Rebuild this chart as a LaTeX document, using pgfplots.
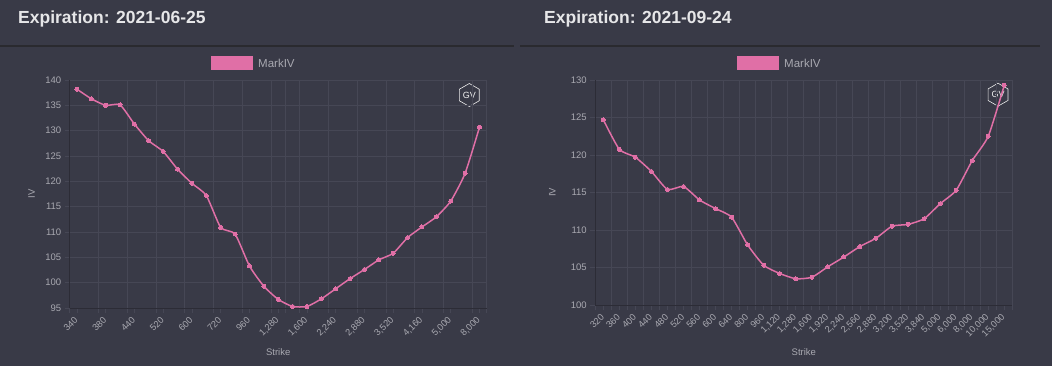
\documentclass[border=0pt]{standalone}
\usepackage{pgfplots}
\pgfplotsset{compat=1.18}
\usepackage{fontspec}
\setmainfont{Liberation Sans}
\usetikzlibrary{shapes.geometric}
\definecolor{bg}{HTML}{393A47}
\definecolor{gridc}{HTML}{464755}
\definecolor{axisc}{HTML}{2C2C36}
\definecolor{tickc}{HTML}{A9A9B1}
\definecolor{pinkc}{HTML}{E06FA6}
\definecolor{titlec}{HTML}{E6E6E8}
\definecolor{divc}{HTML}{2A2A2F}
\pgfplotsset{
  ivstyle/.style={
    scale only axis,
    clip=false,
    axis x line*=bottom, axis y line*=left,
    axis line style={axisc, line width=0.9pt},
    tick align=outside,
    major tick length=5pt, minor tick length=5pt,
    every tick/.style={gridc, line width=0.7pt},
    xmajorgrids=false, xminorgrids=true, ymajorgrids=true,
    grid style={gridc, line width=0.7pt},
    minor grid style={gridc, line width=0.7pt},
    /pgf/number format/assume math mode=true,
    yticklabel style={font=\fontsize{9.5}{10}\selectfont, text=tickc},
    xticklabel style={rotate=45, anchor=east, font=\fontsize{9.2}{10}\selectfont, text=tickc, inner sep=1pt, xshift=-3.5pt, yshift=-3.5pt},
    ylabel={IV}, xlabel={Strike},
    label style={font=\fontsize{9.5}{10}\selectfont, text=tickc},
    ylabel style={at={(rel axis cs:0,0.5)}, anchor=center},
    xlabel style={at={(rel axis cs:0.5,0)}, anchor=center},
    width=417pt,
  },
  ivline/.style={pinkc, line width=1.5pt, smooth, tension=0.35, mark=*, mark size=2pt, mark options={fill=pinkc, draw=pinkc, line width=0pt}},
}
\begin{document}
\begin{tikzpicture}[x=1pt,y=1pt]
\fill[bg] (0,0) rectangle (1052,366);
\useasboundingbox (0,0) rectangle (1052,366);
% titles
\node[anchor=base west, font=\fontsize{17.5}{20}\selectfont\bfseries, text=titlec, inner sep=0] at (18,342) {Expiration: 2021-06-25};
\node[anchor=base west, font=\fontsize{17.5}{20}\selectfont\bfseries, text=titlec, inner sep=0] at (544,342) {Expiration: 2021-09-24};
\draw[divc, line width=2pt] (0,319.5) -- (513.5,319.5);
\draw[divc, line width=2pt] (520,319.5) -- (1040,319.5);
% legends
\fill[pinkc] (211,296) rectangle (253,310);
\node[anchor=west, inner sep=0, font=\fontsize{11.5}{12}\selectfont, text=tickc] at (258,303) {MarkIV};
\fill[pinkc] (737,296) rectangle (779,310);
\node[anchor=west, inner sep=0, font=\fontsize{11.5}{12}\selectfont, text=tickc] at (784,303) {MarkIV};
% logos
\foreach \cx/\cy in {469.3/271, 998/271.3}{
  \node[regular polygon, regular polygon sides=6, shape border rotate=30, draw=white!85!gray, minimum size=23pt, inner sep=0, line width=0.6pt] at (\cx,\cy) {};
  \node[font=\fontsize{9}{10}\selectfont, text=white!90!gray, inner sep=0] at (\cx,\cy) {GV};
}
% left chart
\begin{axis}[ivstyle,
  at={(69.7pt,58pt)}, anchor=south west,
  height=228pt,
  xmin=-0.5, xmax=28.5, ymin=95, ymax=140,
  ytick={95,100,...,140},
  xtick={0,2,...,28},
  xticklabels={340,380,440,520,600,720,960,{1,280},{1,600},{2,240},{2,880},{3,520},{4,160},{5,000},{8,000}},
  minor xtick={-0.5,1.5,3.5,5.5,7.5,9.5,11.5,13.5,14.5,15.5,17.5,19.5,21.5,23.5,25.5,27.5,28.5},
  ylabel style={yshift=38pt},
  xlabel style={yshift=-43.7pt},
]
% strikes: 340,360,380,400,440,480,520,560,600,640,720,800,960,1120,1280,1440,1600,1920,2240,2560,2880,3200,3520,3840,4160,4480,5000,6000,8000
\addplot[ivline] coordinates {
(0,138.2) (1,136.3) (2,135.0) (3,135.1) (4,131.3) (5,128.0) (6,125.9) (7,122.4)
(8,119.6) (9,117.2) (10,110.9) (11,109.6) (12,103.3) (13,99.3) (14,96.7) (15,95.3)
(16,95.3) (17,96.8) (18,98.8) (19,100.8) (20,102.6) (21,104.5) (22,105.8) (23,108.9)
(24,111.0) (25,113.0) (26,116.1) (27,121.6) (28,130.7)};
\end{axis}
% right chart
\begin{axis}[ivstyle,
  at={(595.3pt,61pt)}, anchor=south west,
  height=225pt,
  xmin=-0.5, xmax=25.5, ymin=100, ymax=130,
  ytick={100,105,...,130},
  xtick={0,1,...,25},
  xticklabels={320,360,400,440,480,520,560,600,640,800,960,{1,120},{1,280},{1,600},{1,920},{2,240},{2,560},{2,880},{3,200},{3,520},{3,840},{5,000},{6,000},{8,000},{10,000},{15,000}},
  minor xtick={-0.5,0.5,...,25.5},
  ylabel style={yshift=43pt},
  xlabel style={yshift=-46.7pt},
]
\addplot[ivline] coordinates {
(0,124.7) (1,120.75) (2,119.7) (3,117.8) (4,115.4) (5,115.8) (6,114.0) (7,112.85)
(8,111.7) (9,108.0) (10,105.3) (11,104.2) (12,103.5) (13,103.7) (14,105.1) (15,106.4)
(16,107.8) (17,108.9) (18,110.5) (19,110.75) (20,111.5) (21,113.5) (22,115.3) (23,119.25)
(24,122.5) (25,129.3)};
\end{axis}
\end{tikzpicture}
\end{document}
